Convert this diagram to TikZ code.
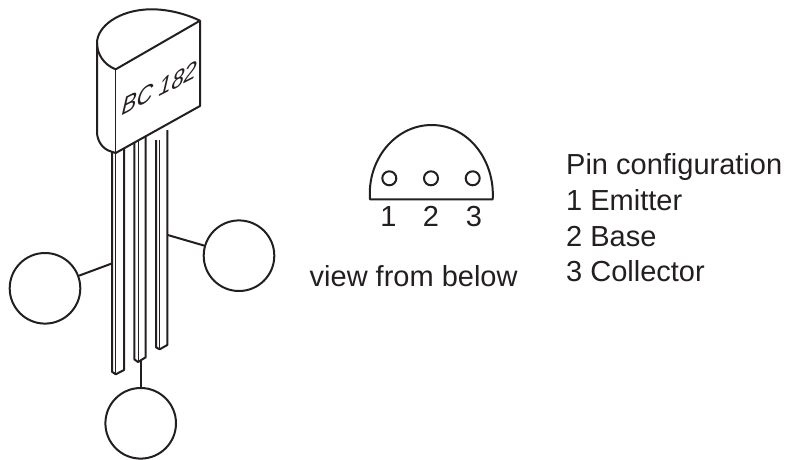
\documentclass[tikz,border=0pt]{standalone}
\usepackage{fontspec}
\setmainfont{Liberation Sans}
\definecolor{ink}{HTML}{231F20}
\tikzset{
  x=1pt,y=-1pt,
  outline/.style={draw=ink,line width=2pt,line join=round},
  thin outline/.style={draw=ink,line width=1pt},
  callout/.style={circle,draw=ink,line width=2pt,minimum size=70.6pt,inner sep=0pt,fill=white},
  leader/.style={draw=ink,line width=2pt},
  pin/.style={circle,draw=ink,line width=2pt,minimum size=14pt,inner sep=0pt},
  label/.style={text=ink,inner sep=0pt,anchor=base west,font=\fontsize{29}{34}\selectfont},
  digit/.style={text=ink,inner sep=0pt,anchor=base,font=\fontsize{29}{34}\selectfont},
}
\begin{document}
\begin{tikzpicture}
\useasboundingbox (0,0) rectangle (790,459);
% legs
\foreach \l/\i/\r/\bl/\bt/\br in {112/115.7/124/371.7/374.3/370, 134.3/138/145.7/359.3/362/357.3, 156/159.7/167.3/347.3/349.3/345}{
  \draw[outline] (\l,140) -- (\l,\bl) -- (\i,\bt) -- (\r,\br) -- (\r,130);
  \draw[thin outline] (\i,140) -- (\i,\bt);
}
% body
\draw[outline,fill=white] (200,20.7) .. controls (180,11) and (160,9) .. (150,9.3)
  .. controls (118,10) and (97,27) .. (97,43) -- (97,132)
  .. controls (97,140) and (102,149) .. (111,151.5) -- (115.7,153) -- (200,106) -- cycle;
\draw[outline] (97,43) .. controls (97,54) and (104,65) .. (115.7,69.3) -- (200,20.7);
\draw[thin outline] (115.7,69.3) -- (115.7,153);
\node[text=ink,inner sep=0pt,cm={0.89,0.454,0.25,1.08,(0,0)},font=\fontsize{25}{30}\selectfont] (type) at (160,88) {BC 182};
% callouts
\node[callout] (c1) at (45,288.3) {};
\node[callout] (c2) at (239,255.7) {};
\node[callout] (c3) at (140.7,423.3) {};
\coordinate (p1) at (112.3,263.3);
\coordinate (p2) at (167.7,235);
\coordinate (p3) at (140.7,360);
\draw[leader] (c1) -- (p1);
\draw[leader] (c2) -- (p2);
\draw[leader] (c3) -- (p3);
% underside view
\draw[outline] (370,199.3) -- (492.7,199.3)
  .. controls (495,160) and (468,125) .. (431.7,125)
  .. controls (395,125) and (367,160) .. (370,199.3) -- cycle;
\node[pin] (h1) at (389.3,178.3) {};
\node[pin] (h2) at (431,178.3) {};
\node[pin] (h3) at (472.7,178.3) {};
\node[digit] (d1) at (388.5,226.7) {1};
\node[digit] (d2) at (431,226.7) {2};
\node[digit] (d3) at (474,226.7) {3};
\node[label] (view) at (309.5,286) {view from below};
\node[label] (t0) at (566,174) {Pin configuration};
\node[label] (t1) at (566,210) {1 Emitter};
\node[label] (t2) at (566,246) {2 Base};
\node[label] (t3) at (566,281) {3 Collector};
\end{tikzpicture}
\end{document}
